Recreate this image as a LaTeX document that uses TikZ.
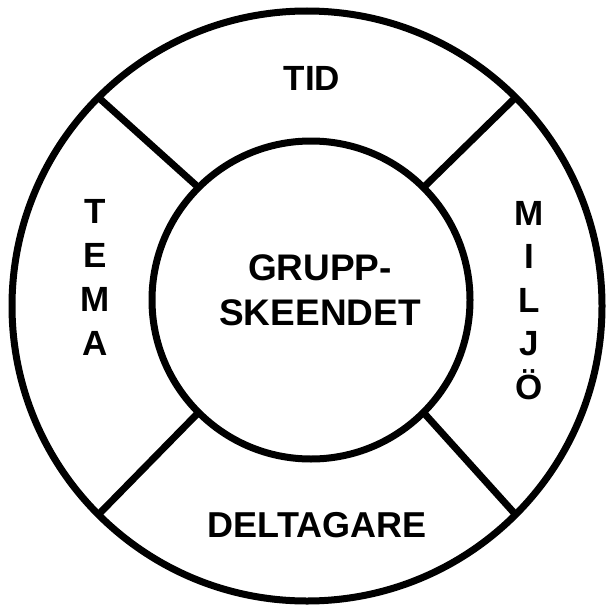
\documentclass[tikz,border=0pt]{standalone}
\usepackage{fontspec}
\setmainfont{Liberation Sans}
\begin{document}
\begin{tikzpicture}[x=1pt,y=-1pt,
  ring/.style={draw=black,line width=7pt,circle,inner sep=0pt,outer sep=0pt},
  spoke/.style={draw=black,line width=7pt},
  lbl/.style={font=\fontsize{35}{44}\selectfont\bfseries,align=center,inner sep=0pt}]
\useasboundingbox (0,0) rectangle (606,610);
\node[ring,minimum size=590pt] (outer) at (307,306) {};
\node[ring,minimum size=318pt] (inner) at (311,300) {};
\draw[spoke] (outer.135) -- (inner.135);
\draw[spoke] (outer.45) -- (inner.45);
\draw[spoke] (outer.225) -- (inner.225);
\draw[spoke] (outer.315) -- (inner.315);
\node[lbl] (tid) at (312,78) {TID};
\node[lbl,font=\fontsize{37}{45}\selectfont\bfseries] (center) at (320,290) {GRUPP-\\SKEENDET};
\node[lbl,font=\fontsize{36}{44}\selectfont\bfseries] (delt) at (317,525.5) {DELTAGARE};
\node[lbl] (tema) at (95,277.5) {T\\E\\M\\A};
\node[lbl,font=\fontsize{35}{43.5}\selectfont\bfseries] (miljo) at (529,300.5) {M\\I\\L\\J\\Ö};
\end{tikzpicture}
\end{document}
